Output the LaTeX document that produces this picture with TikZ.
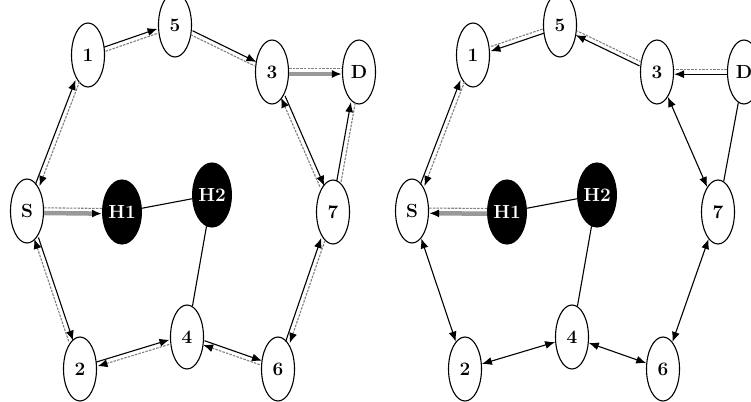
\documentclass[tikz,border=0pt]{standalone}
\usetikzlibrary{arrows.meta,calc,shapes.geometric}
\tikzset{
  nd/.style={draw, ellipse, line width=1.1pt, minimum width=33pt, minimum height=64pt,
    inner sep=0pt, fill=white, font=\fontsize{19}{19}\selectfont\bfseries},
  hn/.style={nd, fill=black, text=white},
  sl/.style={line width=1.1pt, black},
  dl/.style={line width=1.1pt, black!50, dash pattern=on 2.5pt off 1.2pt},
  bandln/.style={line width=4.5pt, black!40},
  tipe/.style={-{Latex[length=10pt,width=8pt,black]}},
  tips/.style={{Latex[length=10pt,width=8pt,black]}-},
  tipb/.style={{Latex[length=10pt,width=8pt,black]}-{Latex[length=10pt,width=8pt,black]}},
}
\newcommand\duo[4]{%
  \draw[sl,#3] let \p1=($(#2)-(#1)$), \n1={atan2(\y1,\x1)}, \n2={\n1+180} in
    ($(#1.\n1)!2.2pt!90:(#2.\n2)$) -- ($(#2.\n2)!2.2pt!-90:(#1.\n1)$);
  \draw[dl,#4] let \p1=($(#2)-(#1)$), \n1={atan2(\y1,\x1)}, \n2={\n1+180} in
    ($(#1.\n1)!2.2pt!-90:(#2.\n2)$) -- ($(#2.\n2)!2.2pt!90:(#1.\n1)$);
}
% #4 = 1 or -1 : side of the grey band
\newcommand\band[4]{%
  \draw[bandln,#3] let \p1=($(#2)-(#1)$), \n1={atan2(\y1,\x1)}, \n2={\n1+180} in
    ($(#1.\n1)!2pt!{#4*90}:(#2.\n2)$) -- ($(#2.\n2)!2pt!{-#4*90}:(#1.\n1)$);
  \draw[dl] let \p1=($(#2)-(#1)$), \n1={atan2(\y1,\x1)}, \n2={\n1+180} in
    ($(#1.\n1)!3.2pt!{-#4*90}:(#2.\n2)$) -- ($(#2.\n2)!3.2pt!{#4*90}:(#1.\n1)$);
}
\begin{document}
\begin{tikzpicture}[x=1pt,y=-1pt]
\useasboundingbox[fill=white] (0,0) rectangle (751,401);
% left graph
\node[nd] (l1) at (88,55) {1};
\node[nd] (l5) at (175,25) {5};
\node[nd] (l3) at (272,72) {3};
\node[nd] (lD) at (359,72) {D};
\node[nd] (lS) at (27,211) {S};
\node[hn] (lH1) at (122,212) {H1};
\node[hn] (lH2) at (212,195) {H2};
\node[nd] (l7) at (333,212) {7};
\node[nd] (l2) at (80,369) {2};
\node[nd] (l4) at (187,337) {4};
\node[nd] (l6) at (278,369) {6};
% right graph
\node[nd] (r1) at (473,55) {1};
\node[nd] (r5) at (560,25) {5};
\node[nd] (r3) at (657,72) {3};
\node[nd] (rD) at (744,72) {D};
\node[nd] (rS) at (412,211) {S};
\node[hn] (rH1) at (507,212) {H1};
\node[hn] (rH2) at (597,195) {H2};
\node[nd] (r7) at (718,212) {7};
\node[nd] (r2) at (465,369) {2};
\node[nd] (r4) at (572,337) {4};
\node[nd] (r6) at (663,369) {6};
% left edges
\duo{lS}{l1}{tipe}{tips}
\duo{l1}{l5}{tipe}{}
\duo{l5}{l3}{tipe}{}
\band{l3}{lD}{tipe}{-1}
\duo{l3}{l7}{tipe}{tips}
\duo{l7}{lD}{tipe}{}
\band{lS}{lH1}{tipe}{-1}
\draw[sl] (lH1) -- (lH2);
\draw[sl] (lH2) -- (l4);
\duo{lS}{l2}{tipe}{tips}
\duo{l2}{l4}{tipe}{tips}
\duo{l4}{l6}{tipe}{tips}
\duo{l6}{l7}{tipe}{tips}
% right edges
\duo{rS}{r1}{tipe}{tips}
\duo{r5}{r1}{tipe}{}
\duo{r3}{r5}{tipe}{}
\duo{rD}{r3}{tipe}{}
\band{rH1}{rS}{tipe}{1}
\draw[sl] (rH1) -- (rH2);
\draw[sl] (rH2) -- (r4);
\draw[sl,tipb] (r3) -- (r7);
\draw[sl] (r7) -- (rD);
\draw[sl,tipb] (rS) -- (r2);
\draw[sl,tipb] (r2) -- (r4);
\draw[sl,tipb] (r4) -- (r6);
\draw[sl,tipb] (r6) -- (r7);
\end{tikzpicture}
\end{document}
